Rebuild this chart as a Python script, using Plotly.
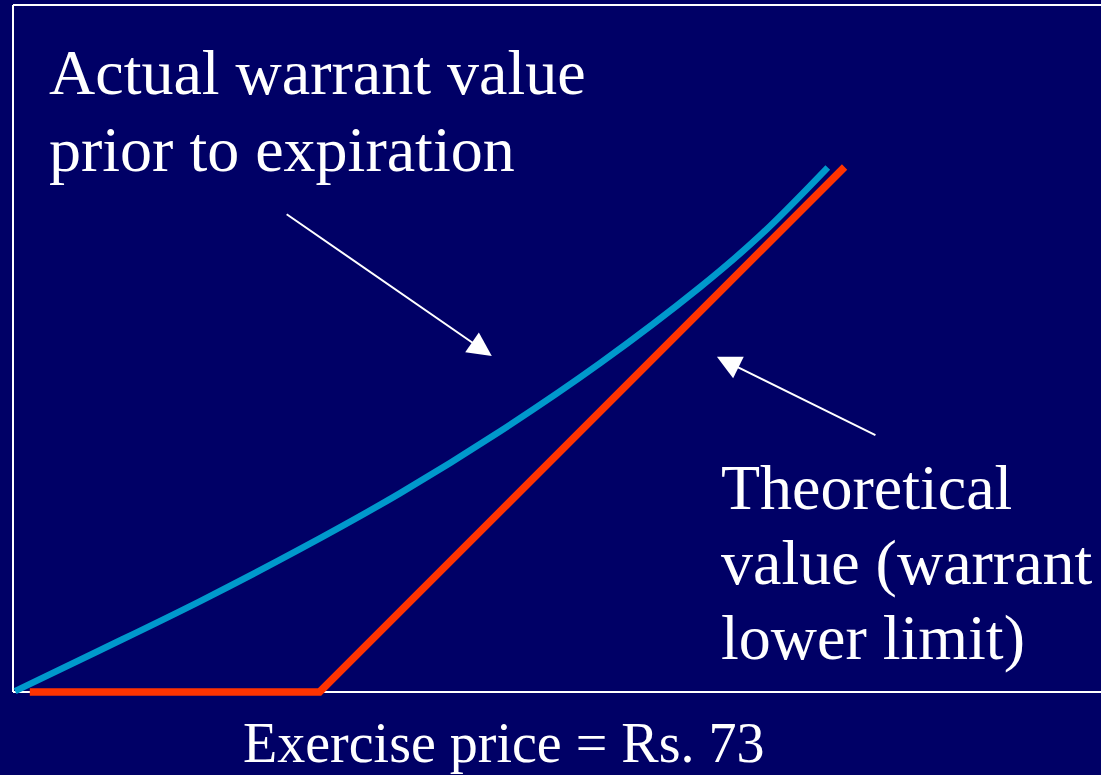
import plotly.graph_objects as go

# ---- data (stock price vs warrant value, arbitrary units) ----
exercise_price = 73
actual_price = [0.5, 20.7, 44.5, 68.3, 92.1, 116.0, 139.8, 163.6, 177.9, 194.0]
actual_value = [0.2, 9.95, 21.6, 34.0, 47.3, 62.1, 78.3, 96.4, 108.7, 124.9]
theory_price = [4, 73, 198]
theory_value = [0, 0, 125]

label_actual = ["Actual warrant value", "prior to expiration"]
label_theory = ["Theoretical", "value (warrant", "lower limit)"]
label_axis = "Exercise price = Rs. 73"

BG = "#000066"
BLUE = "#0099CC"
RED = "#FF3300"
FONT = "Liberation Serif, Times New Roman, serif"

X_RANGE = [-3.095, 259.05]
Y_RANGE = [-19.76, 164.76]
TOP = 163.57

fig = go.Figure()
fig.add_trace(go.Scatter(x=theory_price, y=theory_value, mode="lines",
                         line=dict(color=RED, width=7.5), hoverinfo="skip"))
fig.add_trace(go.Scatter(x=actual_price, y=actual_value, mode="lines",
                         line=dict(color=BLUE, width=6.5, shape="spline", smoothing=1.0),
                         hoverinfo="skip"))

line_w = dict(color="white", width=2)
fig.add_shape(type="line", x0=0, x1=0, y0=0, y1=TOP, line=line_w, layer="below")
fig.add_shape(type="line", x0=0, x1=X_RANGE[1], y0=TOP, y1=TOP, line=line_w, layer="below")
fig.add_shape(type="line", x0=0, x1=X_RANGE[1], y0=0, y1=0, line=line_w, layer="below")

tfont = dict(family=FONT, size=64, color="white")
for i, t in enumerate(label_actual):
    fig.add_annotation(x=8.1, y=156.5 - i * 18.3, xref="x", yref="y", text=t, showarrow=False,
                       xanchor="left", yanchor="top", align="left", font=tfont)
for i, t in enumerate(label_theory):
    fig.add_annotation(x=168.1, y=57.7 - i * 17.85, xref="x", yref="y", text=t, showarrow=False,
                       xanchor="left", yanchor="top", align="left", font=tfont)
fig.add_annotation(x=116.8, y=-4.4, xref="x", yref="y", text=label_axis, showarrow=False,
                   xanchor="center", yanchor="top",
                   font=dict(family=FONT, size=56, color="white"))

# arrows
fig.add_annotation(x=114.0, y=80.0, ax=64.8, ay=114.0, xref="x", yref="y", axref="x", ayref="y",
                   text="", showarrow=True, arrowhead=2, arrowsize=2.4, arrowwidth=2,
                   arrowcolor="white")
fig.add_annotation(x=167.6, y=79.8, ax=205.7, ay=61.0, xref="x", yref="y", axref="x", ayref="y",
                   text="", showarrow=True, arrowhead=2, arrowsize=2.4, arrowwidth=2,
                   arrowcolor="white")

fig.update_layout(
    width=1101, height=775, margin=dict(l=0, r=0, t=0, b=0),
    paper_bgcolor=BG, plot_bgcolor=BG, showlegend=False,
    xaxis=dict(range=X_RANGE, visible=False, fixedrange=True),
    yaxis=dict(range=Y_RANGE, visible=False, fixedrange=True),
)
fig.write_html(
    "out.html",
    config={"displayModeBar": False},
    post_script="document.body.style.margin='0';document.body.style.background='#000066';",
)
